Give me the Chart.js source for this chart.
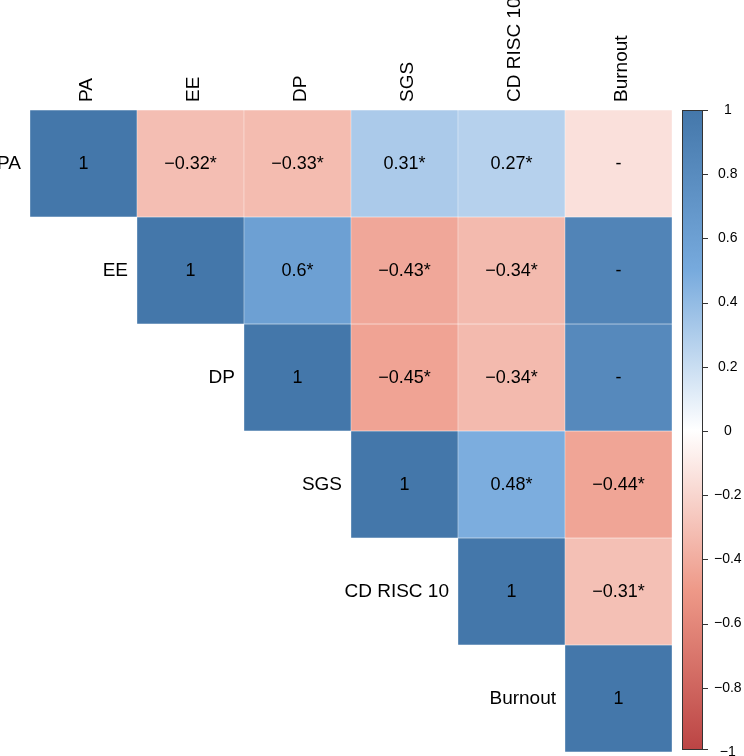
<!DOCTYPE html>
<html>
<head>
<meta charset="utf-8">
<script src="https://cdn.jsdelivr.net/npm/chart.js@4.4.1/dist/chart.umd.min.js"></script>
<style>
  html, body { margin: 0; padding: 0; background: #fff; overflow: hidden; }
</style>
</head>
<body>
<canvas id="corrChart" width="744" height="756"></canvas>
<script>
// --- DADOS ---
const variables = ['PA', 'EE', 'DP', 'SGS', 'CD RISC 10', 'Burnout'];

// triângulo superior, cada linha começa na diagonal
const rowPA = [1, -0.32, -0.33, 0.31, 0.27, -0.15];
const rowEE = [1, 0.6, -0.43, -0.34, 0.87];
const rowDP = [1, -0.45, -0.34, 0.82];
const rowSGS = [1, 0.48, -0.44];
const rowCD = [1, -0.31];
const rowBurnout = [1];

const textPA = ['1', '\u22120.32*', '\u22120.33*', '0.31*', '0.27*', '-'];
const textEE = ['1', '0.6*', '\u22120.43*', '\u22120.34*', '-'];
const textDP = ['1', '\u22120.45*', '\u22120.34*', '-'];
const textSGS = ['1', '0.48*', '\u22120.44*'];
const textCD = ['1', '\u22120.31*'];
const textBurnout = ['1'];

const colorbarTicks = [-1, -0.8, -0.6, -0.4, -0.2, 0, 0.2, 0.4, 0.6, 0.8, 1];

// paleta do corrplot
const paletteStops = [-1, -0.5, 0, 0.5, 1];
const paletteColors = ['#BB4444', '#EE9988', '#FFFFFF', '#77AADD', '#4477AA'];

const rows = [rowPA, rowEE, rowDP, rowSGS, rowCD, rowBurnout];
const texts = [textPA, textEE, textDP, textSGS, textCD, textBurnout];

function hexToRgb(h) {
    return [parseInt(h.slice(1, 3), 16), parseInt(h.slice(3, 5), 16), parseInt(h.slice(5, 7), 16)];
}

function corrColor(v) {
    for (let i = 0; i < paletteStops.length - 1; i++) {
        if (v <= paletteStops[i + 1]) {
            const t = (v - paletteStops[i]) / (paletteStops[i + 1] - paletteStops[i]);
            const a = hexToRgb(paletteColors[i]);
            const b = hexToRgb(paletteColors[i + 1]);
            const c = a.map((x, k) => Math.round(x + (b[k] - x) * t));
            return 'rgb(' + c.join(',') + ')';
        }
    }
    return paletteColors[paletteColors.length - 1];
}

const datasets = rows.map((vals, r) => ({
    label: variables[r],
    yAxisID: 'y',
    grouped: false,
    categoryPercentage: 1,
    barPercentage: 1,
    data: variables.map((_, c) => c >= r ? [r, r + 1] : null),
    backgroundColor: variables.map((_, c) => c >= r ? corrColor(vals[c - r]) : 'rgba(0,0,0,0)'),
    borderColor: 'rgba(255,255,255,0.6)',
    borderWidth: 0.5,
    borderSkipped: false
}));

// --- DESENHO EXTRA: números, rótulos das linhas, barra de cores ---
const corrDecor = {
    id: 'corrDecor',
    afterDatasetsDraw(chart) {
        const ctx = chart.ctx;
        const area = chart.chartArea;
        ctx.save();
        ctx.fillStyle = '#000';
        ctx.textBaseline = 'middle';

        rows.forEach((vals, r) => {
            const meta = chart.getDatasetMeta(r);
            meta.data.forEach((el, c) => {
                if (c < r) return;
                const cy = (el.y + el.base) / 2;
                ctx.font = '18px "Liberation Sans", Arial, sans-serif';
                ctx.textAlign = 'center';
                ctx.fillText(texts[r][c - r], el.x, cy + 1);
                if (c === r) {
                    ctx.font = '19px "Liberation Sans", Arial, sans-serif';
                    ctx.textAlign = 'right';
                    ctx.fillText(variables[r], el.x - el.width / 2 - 9, cy);
                }
            });
        });

        // barra de cores
        const cb = chart.scales.y2;
        const x0 = area.right + 10;
        const w = 21;
        const yTop = cb.getPixelForValue(1);
        const yBot = cb.getPixelForValue(-1) - 2;
        const grad = ctx.createLinearGradient(0, yBot, 0, yTop);
        paletteStops.forEach((s, i) => grad.addColorStop((s + 1) / 2, paletteColors[i]));
        ctx.fillStyle = grad;
        ctx.fillRect(x0, yTop, w, yBot - yTop);
        ctx.strokeStyle = '#333';
        ctx.lineWidth = 1;
        ctx.strokeRect(x0 + 0.5, yTop + 0.5, w - 1, yBot - yTop - 1);
        cb.ticks.forEach(t => {
            const py = Math.min(Math.round(cb.getPixelForValue(t.value)), yBot - 1) + 0.5;
            ctx.beginPath();
            ctx.moveTo(x0 + w, py);
            ctx.lineTo(x0 + w + 5, py);
            ctx.stroke();
        });
        ctx.restore();
    }
};

const ctx = document.getElementById('corrChart').getContext('2d');
new Chart(ctx, {
    type: 'bar',
    data: { labels: variables, datasets: datasets },
    options: {
        responsive: false,
        devicePixelRatio: 1,
        animation: false,
        layout: { autoPadding: false, padding: { left: 30, bottom: 4, top: 0, right: 0 } },
        plugins: { legend: { display: false }, tooltip: { enabled: false } },
        scales: {
            x: {
                type: 'category',
                position: 'top',
                offset: true,
                grid: { display: false },
                border: { display: false },
                ticks: {
                    color: '#000',
                    font: { size: 19, family: '"Liberation Sans", Arial, sans-serif' },
                    minRotation: 90,
                    maxRotation: 90,
                    autoSkip: false,
                    padding: 0,
                    labelOffset: 26
                },
                afterFit(s) { s.height = 110; }
            },
            y: {
                type: 'linear',
                min: 0,
                max: 6,
                reverse: true,
                display: false
            },
            y2: {
                type: 'linear',
                position: 'right',
                min: -1,
                max: 1,
                grid: { display: false },
                border: { display: false },
                afterBuildTicks(s) { s.ticks = colorbarTicks.map(v => ({ value: v })); },
                ticks: {
                    color: '#000',
                    crossAlign: 'center',
                    padding: 34,
                    font: { size: 14, family: '"Liberation Sans", Arial, sans-serif' },
                    callback: v => (v < 0 ? '\u2212' : '') + String(parseFloat(Math.abs(v).toFixed(1)))
                },
                afterFit(s) {
                    s.width = 72;
                    s.paddingTop = 0;
                    s.paddingBottom = 0;
                }
            }
        }
    },
    plugins: [corrDecor]
});
</script>
</body>
</html>
